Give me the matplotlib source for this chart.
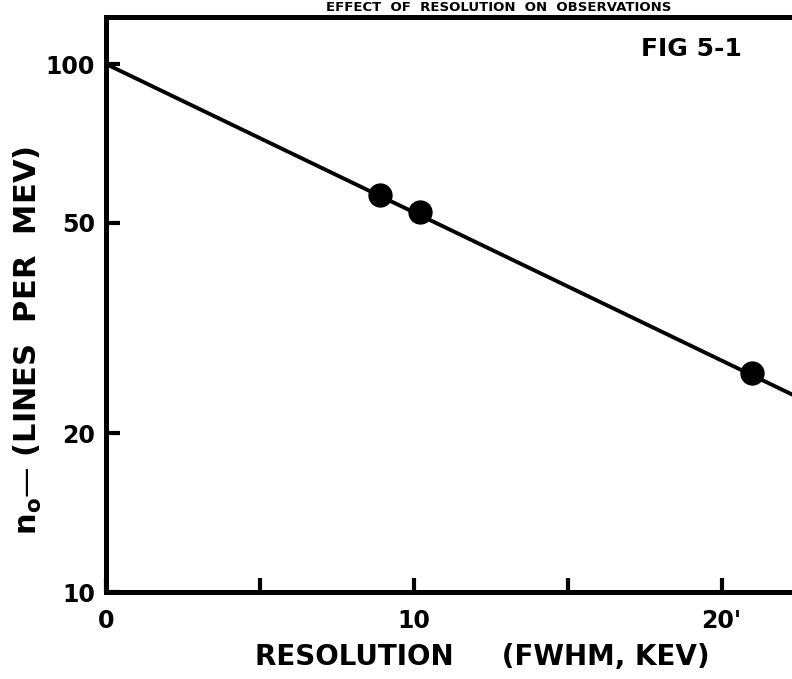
import numpy as np
import matplotlib
matplotlib.use("Agg")
import matplotlib.pyplot as plt

# measured points (resolution in keV FWHM, lines per MeV)
res_pts = [8.9, 10.2, 21.0]
n0_pts = [56.5, 52.5, 26.0]

# straight line on the semilog plot (fit drawn through the points)
fit_x = [0.0, 23.0]
fit_y = [100.0, 22.6]

xticks = [0, 5, 10, 15, 20]
xticklabels = ["0", "", "10", "", "20'"]
yticks = [10, 20, 50, 100]
yticklabels = ["10", "20", "50", "100"]

plt.rcParams['font.family'] = ['DejaVu Sans']
plt.rcParams['font.weight'] = 'bold'

fig = plt.figure(figsize=(7.92, 6.79), dpi=100)
ax = fig.add_axes([106 / 792, 1 - 592 / 679, 708 / 792, (592 - 17) / 679])

ax.set_yscale('log')
ax.set_xlim(0, 23)
ax.set_ylim(10, 10 ** ((592 - 17) / 528 + 1))

ax.plot(fit_x, fit_y, color='black', lw=2.8, solid_capstyle='round')
ax.plot(res_pts, n0_pts, 'o', color='black', markersize=16.5)

ax.set_xticks(xticks)
ax.set_xticklabels(xticklabels)
ax.set_yticks(yticks)
ax.set_yticklabels(yticklabels)
ax.yaxis.set_minor_locator(matplotlib.ticker.NullLocator())
ax.tick_params(direction='in', length=10, width=3, labelsize=17, pad=8)
ax.tick_params(axis='x', pad=12)
for lbl in ax.get_yticklabels() + ax.get_xticklabels():
    lbl.set_fontweight('bold')

for side in ['left', 'bottom', 'top']:
    ax.spines[side].set_linewidth(3.6)
ax.spines['right'].set_visible(False)

# title mostly lost above the frame in the scan; kept small so it stays inside
fig.text(0.63, 1 - 11 / 679, "EFFECT  OF  RESOLUTION  ON  OBSERVATIONS",
         ha='center', va='baseline', fontsize=9.5, fontweight='bold')
fig.text(691 / 792, 1 - 49 / 679, "FIG 5-1", ha='center', va='center',
         fontsize=18, fontweight='bold')

fig.text(482 / 792, 1 - 657 / 679, "RESOLUTION     (FWHM, KEV)", ha='center',
         va='center', fontsize=20, fontweight='bold')
fig.text(28 / 792, 1 - 340 / 679, r"$\mathbf{n_o}$— (LINES  PER  MEV)",
         rotation=90, ha='center', va='center', fontsize=22, fontweight='bold')

fig.savefig("out.png", dpi=100)
